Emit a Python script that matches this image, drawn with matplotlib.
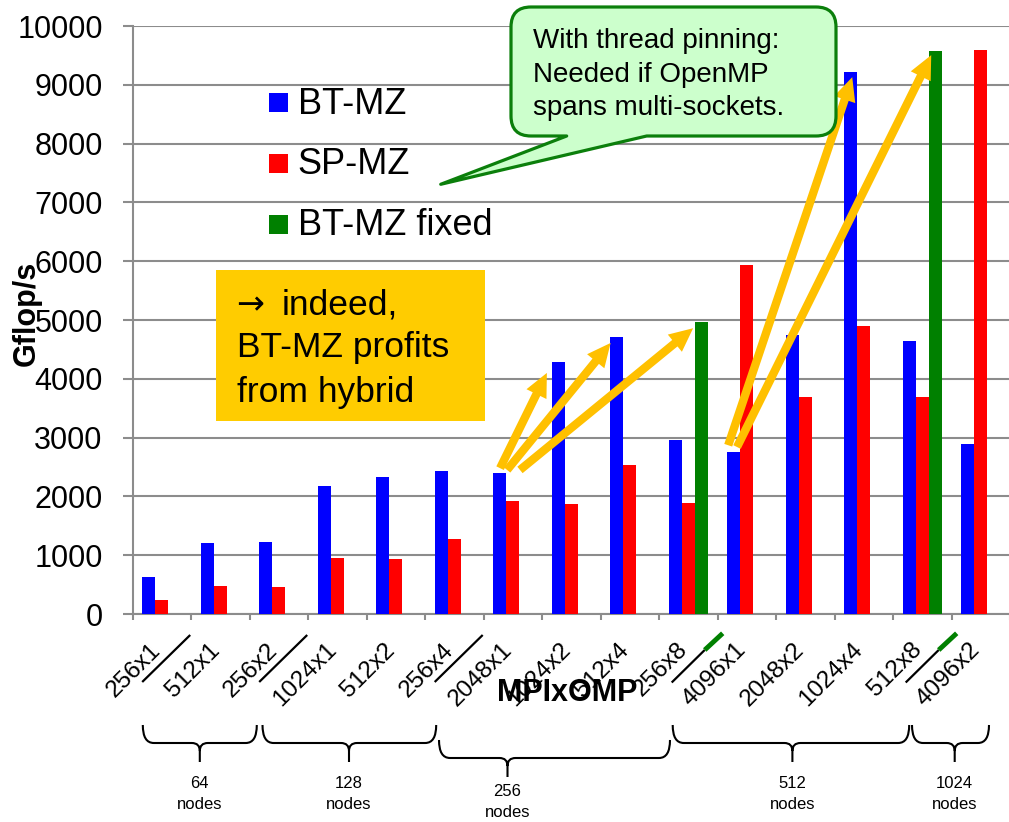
import numpy as np
import matplotlib
matplotlib.use("Agg")
import matplotlib.pyplot as plt
from matplotlib.path import Path
from matplotlib.patches import PathPatch, FancyArrowPatch, Rectangle
from matplotlib import font_manager

# MPI x OpenMP configurations, in plotting order
configs = ["256x1", "512x1", "256x2", "1024x1", "512x2", "256x4", "2048x1",
           "1024x2", "512x4", "256x8", "4096x1", "2048x2", "1024x4", "512x8", "4096x2"]

# Performance in Gflop/s
bt_mz = [634, 1202, 1230, 2172, 2330, 2427, 2393, 4288, 4718,
         2957, 2762, 4738, 9220, 4651, 2890]
sp_mz = [238, 476, 465, 947, 935, 1270, 1916, 1868, 2540,
         1888, 5934, 3696, 4892, 3696, 9597]
nan = np.nan
bt_mz_fixed = [nan, nan, nan, nan, nan, nan, nan, nan, nan,
               4973, nan, nan, nan, 9570, nan]

series_names = ["BT-MZ", "SP-MZ", "BT-MZ fixed"]
series_colors = ["#0000FF", "#FF0000", "#008000"]

node_groups = ["64", "128", "256", "512", "1024"]

# ---------------------------------------------------------------- layout
W, H, DPI = 1009, 822, 100
GRID = "#8C8C8C"
GOLD = "#FFC000"

plt.rcParams["font.family"] = ["Liberation Sans", "DejaVu Sans"]
installed = {f.name for f in font_manager.fontManager.ttflist}
narrow = "Liberation Sans Narrow" if "Liberation Sans Narrow" in installed else "Liberation Sans"

fig = plt.figure(figsize=(W / DPI, H / DPI), dpi=DPI)
ax = fig.add_axes([132.7 / W, (H - 614) / H, 877.5 / W, 588 / H])

n = len(configs)
centers = np.arange(n) + 0.5
bw = 0.222
bars = []
for k, (vals, name, col) in enumerate(zip([bt_mz, sp_mz, bt_mz_fixed], series_names, series_colors)):
    bars.append(ax.bar(centers + (k - 1) * bw, vals, bw, color=col, label=name, zorder=3))

ax.set_xlim(0, n)
ax.set_ylim(0, 10000)
ax.set_yticks(np.arange(0, 10001, 1000))
ax.yaxis.grid(True, color=GRID, lw=1.5)
ax.set_axisbelow(True)
for side in ("top", "right"):
    ax.spines[side].set_visible(False)
for side in ("left", "bottom"):
    ax.spines[side].set_color(GRID)
    ax.spines[side].set_linewidth(1.5)

ax.tick_params(axis="y", length=7.2, width=1.5, color=GRID, pad=14.4, labelsize=22)
ax.set_xticks(np.arange(n + 1))
ax.set_xticklabels([])
ax.tick_params(axis="x", which="major", length=4.3, width=1.5, color=GRID)
ax.set_xticks(centers, minor=True)
ax.set_xticklabels(configs, minor=True, fontsize=17.5)
ax.tick_params(axis="x", which="minor", length=0, pad=26.5)
for lab in ax.get_xticklabels(minor=True):
    lab.set_rotation(45)
    lab.set_ha("right")
    lab.set_va("baseline")
    lab.set_rotation_mode("anchor")

ax.set_ylabel("Gflop/s", fontsize=22, fontweight="bold")
ax.yaxis.set_label_coords((42 - 132.7) / 877.5, (614 - 313) / 588)
ax.set_xlabel("MPIxOMP", fontsize=22, fontweight="bold")
ax.xaxis.set_label_coords((567 - 132.7) / 877.5, -(678 - 614) / 588)

# Gold arrows highlighting the gain from hybrid runs (data coordinates)
hybrid_arrows = [((6.28, 2480), (7.08, 4100)),
                 ((6.40, 2450), (8.17, 4610)),
                 ((6.62, 2450), (9.58, 4860)),
                 ((10.18, 2870), (12.30, 9130)),
                 ((10.33, 2840), (13.65, 9505))]
for tail, head in hybrid_arrows:
    ax.add_patch(FancyArrowPatch(
        tail, head, arrowstyle="simple,head_length=1.7,head_width=1.6,tail_width=0.6",
        mutation_scale=10, color=GOLD, lw=0, shrinkA=0, shrinkB=0, zorder=5))

# ------------------------------------------------ overlay in pixel space
axo = fig.add_axes([0, 0, 1, 1])
axo.set_xlim(0, W)
axo.set_ylim(H, 0)
axo.axis("off")
axo.set_zorder(2)


def text_lines(x, baselines, lines, **kw):
    for yb, s in zip(baselines, lines):
        axo.text(x, yb, s, va="baseline", **kw)


# Legend
legend_rows = [103, 163.3, 224.3]
for yc, bc, name in zip(legend_rows, bars, series_names):
    axo.add_patch(Rectangle((269, yc - 9.5), 19, 19, color=bc.patches[0].get_facecolor(), lw=0))
    axo.text(297.7, yc + 10.5, name, fontsize=26, va="baseline")

# Yellow comment box
axo.add_patch(Rectangle((216, 270), 269, 150.7, color="#FFCC00", lw=0))
axo.text(236, 314, "\u2192", fontsize=24, va="baseline", family=["DejaVu Sans"])
axo.text(281.7, 314, "indeed,", fontsize=25.5, va="baseline")
text_lines(237.3, [357, 401.5], ["BT-MZ profits", "from hybrid"], fontsize=25.5)

# Green speech bubble
def bubble_path(x0, y0, x1, y1, r, t0, t1, tip):
    verts = [(x0 + r, y0), (x1 - r, y0), (x1, y0), (x1, y0 + r),
             (x1, y1 - r), (x1, y1), (x1 - r, y1),
             (t1, y1), tip, (t0, y1),
             (x0 + r, y1), (x0, y1), (x0, y1 - r),
             (x0, y0 + r), (x0, y0), (x0 + r, y0), (x0 + r, y0)]
    codes = [Path.MOVETO, Path.LINETO, Path.CURVE3, Path.CURVE3,
             Path.LINETO, Path.CURVE3, Path.CURVE3,
             Path.LINETO, Path.LINETO, Path.LINETO,
             Path.LINETO, Path.CURVE3, Path.CURVE3,
             Path.LINETO, Path.CURVE3, Path.CURVE3, Path.CLOSEPOLY]
    return Path(verts, codes)


axo.add_patch(PathPatch(bubble_path(511, 7, 836, 136, 20, 566.7, 646.7, (440.7, 184.3)),
                        facecolor="#CCFFCC", edgecolor="#0B7F0B", lw=2.3, joinstyle="round"))
text_lines(532.7, [48, 81.7, 115],
           ["With thread pinning:", "Needed if OpenMP", "spans multi-sockets."],
           fontsize=20)

# Diagonal separators between paired tick labels
def bx(b):
    return ax.transData.transform((b, 0))[0]


for b in (1, 3, 6):
    x = bx(b)
    axo.plot([x - 49, x - 1], [682, 635], color="black", lw=1.6, solid_capstyle="butt")
for b in (10, 14):
    x = bx(b)
    axo.plot([x - 46, x - 13], [682.5, 650], color="black", lw=1.6, solid_capstyle="butt")
    axo.plot([x - 13, x + 5], [650, 633.3], color="#008000", lw=3.5, solid_capstyle="butt")

# Curly braces grouping the configurations by node count
def brace(x0, xt, x1, ytop, ymid, ybot, re=11, rt=8):
    verts = [(x0, ytop), (x0, ymid), (x0 + re, ymid), (xt - rt, ymid),
             (xt, ymid), (xt, ymid + rt), (xt, ybot),
             (xt, ymid + rt), (xt, ymid), (xt + rt, ymid), (x1 - re, ymid),
             (x1, ymid), (x1, ytop)]
    codes = [Path.MOVETO, Path.CURVE3, Path.CURVE3, Path.LINETO,
             Path.CURVE3, Path.CURVE3, Path.LINETO,
             Path.MOVETO, Path.CURVE3, Path.CURVE3, Path.LINETO,
             Path.CURVE3, Path.CURVE3]
    return Path(verts, codes)


brace_spans = [(142.8, 199.8, 256.8, 0), (262.5, 349, 436.2, 0), (439, 507.5, 670, 1),
               (672.7, 792.4, 909.2, 0), (912, 954.7, 989, 0)]
for (x0, xt, x1, low), count in zip(brace_spans, node_groups):
    dy = 15 if low else 0
    axo.add_patch(PathPatch(brace(x0, xt, x1, 725 + dy, 743 + dy, 762 + dy),
                            facecolor="none", edgecolor="black", lw=1.5))
    text_lines(xt, [788.3 + dy * 0.5, 809 + dy * 0.5], [count, "nodes"],
               fontsize=12, ha="center", family=[narrow, "DejaVu Sans"])

fig.savefig("out.png", dpi=DPI)
